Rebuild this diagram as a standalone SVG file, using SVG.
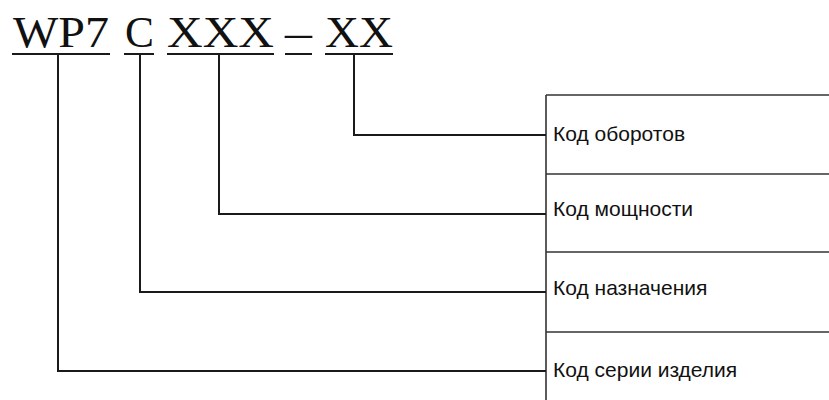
<svg xmlns="http://www.w3.org/2000/svg" width="829" height="400" viewBox="0 0 829 400">
<style>
.code{font-family:"Liberation Serif","Times New Roman",serif;font-size:44px;fill:#111}
.lbl{font-family:"Liberation Sans",Arial,sans-serif;font-size:21px;fill:#111}
.ln{stroke:#1a1a1a;stroke-width:2;fill:none}
.tb{stroke:#333;stroke-width:1.6;fill:none}
</style>
<rect width="829" height="400" fill="#fff"/>
<g id="code">
<text class="code" x="13" y="47" textLength="96" lengthAdjust="spacingAndGlyphs">WP7</text>
<text class="code" x="125" y="47" textLength="29" lengthAdjust="spacingAndGlyphs">C</text>
<text class="code" x="167" y="47" textLength="107" lengthAdjust="spacingAndGlyphs">XXX</text>
<text class="code" x="285" y="47" textLength="27" lengthAdjust="spacingAndGlyphs">–</text>
<text class="code" x="325" y="47" textLength="68" lengthAdjust="spacingAndGlyphs">XX</text>
<line class="ln" x1="12" y1="54" x2="110" y2="54"/>
<line class="ln" x1="124" y1="54" x2="154" y2="54"/>
<line class="ln" x1="167" y1="54" x2="274" y2="54"/>
<line class="ln" x1="285" y1="54" x2="312" y2="54"/>
<line class="ln" x1="325" y1="54" x2="393" y2="54"/>
</g>
<g id="table">
<line class="tb" x1="546" y1="95" x2="546" y2="400"/>
<line class="tb" x1="546" y1="95" x2="829" y2="95"/>
<line class="tb" x1="546" y1="174" x2="829" y2="174"/>
<line class="tb" x1="546" y1="252" x2="829" y2="252"/>
<line class="tb" x1="546" y1="332" x2="829" y2="332"/>
</g>
<g id="n1"><text class="lbl" x="553" y="141">Код оборотов</text></g>
<g id="n2"><text class="lbl" x="553" y="216">Код мощности</text></g>
<g id="n3"><text class="lbl" x="553" y="295">Код назначения</text></g>
<g id="n4"><text class="lbl" x="553" y="377">Код серии изделия</text></g>
<g id="connectors">
<polyline class="ln" points="354,54 354,135 546,135"/>
<polyline class="ln" points="219,54 219,214 546,214"/>
<polyline class="ln" points="140,54 140,292 546,292"/>
<polyline class="ln" points="58,54 58,371 546,371"/>
</g>
</svg>
